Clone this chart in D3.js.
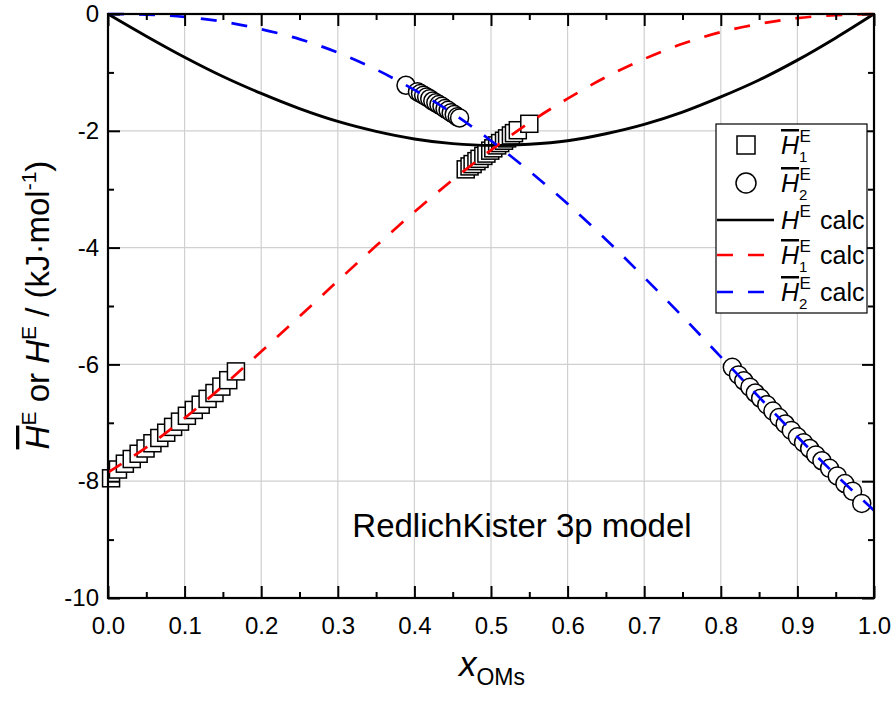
<!DOCTYPE html>
<html>
<head>
<meta charset="utf-8">
<script src="https://cdn.jsdelivr.net/npm/d3@7"></script>
<style>
  body { margin: 0; background: #fff; }
  svg text { font-family: "Liberation Sans", Arial, Helvetica, sans-serif; fill: #000; }
</style>
</head>
<body>
<svg id="chart" width="896" height="705"></svg>
<script>
// model curves (x step 0.05)
const curveX = [0, 0.05, 0.1, 0.15, 0.2, 0.25, 0.3, 0.35, 0.4, 0.45, 0.5,
                0.55, 0.6, 0.65, 0.7, 0.75, 0.8, 0.85, 0.9, 0.95, 1.0];
const heCalc = [0, -0.38, -0.74, -1.07, -1.36, -1.62, -1.84, -2.01, -2.14, -2.22, -2.25,
                -2.23, -2.17, -2.05, -1.89, -1.68, -1.42, -1.13, -0.79, -0.41, 0];
const h1Calc = [-7.85, -7.42, -6.92, -6.37, -5.78, -5.18, -4.57, -3.97, -3.39, -2.84, -2.33,
                -1.86, -1.45, -1.08, -0.77, -0.51, -0.31, -0.17, -0.07, -0.02, 0];
const h2Calc = [0, -0.01, -0.05, -0.13, -0.26, -0.43, -0.66, -0.95, -1.30, -1.70, -2.17,
                -2.69, -3.25, -3.86, -4.51, -5.18, -5.87, -6.56, -7.24, -7.89, -8.50];

// experimental partial molar enthalpies
const h1X = [0.004, 0.013, 0.022, 0.031, 0.040, 0.049, 0.058, 0.067, 0.076, 0.085,
             0.094, 0.103, 0.112, 0.121, 0.130, 0.139, 0.148, 0.157, 0.167,
             0.467, 0.472, 0.476, 0.481, 0.485, 0.490, 0.494, 0.499, 0.503, 0.508,
             0.512, 0.517, 0.521, 0.526, 0.530, 0.535, 0.550];
const h1Y = [-7.95, -7.80, -7.70, -7.62, -7.53, -7.44, -7.35, -7.26, -7.17, -7.07,
             -6.98, -6.88, -6.78, -6.69, -6.59, -6.49, -6.38, -6.27, -6.12,
             -2.66, -2.61, -2.57, -2.52, -2.48, -2.43, -2.39, -2.34, -2.30, -2.25,
             -2.21, -2.17, -2.13, -2.08, -2.04, -1.99, -1.88];
const h2X = [0.389, 0.404, 0.408, 0.412, 0.416, 0.420, 0.424, 0.428, 0.432, 0.436,
             0.440, 0.444, 0.448, 0.452, 0.456, 0.459,
             0.815, 0.823, 0.830, 0.838, 0.845, 0.852, 0.860, 0.868, 0.876, 0.884,
             0.892, 0.900, 0.908, 0.916, 0.924, 0.932, 0.942, 0.952, 0.962, 0.972, 0.984];
const h2Y = [-1.22, -1.33, -1.36, -1.39, -1.42, -1.45, -1.49, -1.52, -1.55, -1.58,
             -1.62, -1.65, -1.69, -1.72, -1.76, -1.78,
             -6.05, -6.18, -6.28, -6.39, -6.49, -6.58, -6.69, -6.80, -6.91, -7.02,
             -7.13, -7.24, -7.34, -7.44, -7.55, -7.65, -7.78, -7.91, -8.04, -8.17, -8.38];

const xTicks = [0, 0.1, 0.2, 0.3, 0.4, 0.5, 0.6, 0.7, 0.8, 0.9, 1.0];
const xMinor = [0.05, 0.15, 0.25, 0.35, 0.45, 0.55, 0.65, 0.75, 0.85, 0.95];
const yTicks = [0, -2, -4, -6, -8, -10];
const yMinor = [-1, -3, -5, -7, -9];

const svg = d3.select("#chart");
const margin = { top: 14, right: 22, bottom: 107, left: 108 };
const W = 896 - margin.left - margin.right,
      H = 705 - margin.top - margin.bottom;

const x = d3.scaleLinear().domain([0, 1]).range([0, W]);
const y = d3.scaleLinear().domain([-10, 0]).range([H, 0]);

const g = svg.append("g").attr("transform", `translate(${margin.left},${margin.top})`);

// grid
g.append("g").selectAll("line")
  .data(xTicks.slice(1, -1)).enter().append("line")
  .attr("x1", d => x(d)).attr("x2", d => x(d))
  .attr("y1", 0).attr("y2", H)
  .attr("stroke", "#d0d0d0").attr("stroke-width", 1.2);
g.append("g").selectAll("line")
  .data(yTicks.slice(1, -1)).enter().append("line")
  .attr("y1", d => y(d)).attr("y2", d => y(d))
  .attr("x1", 0).attr("x2", W)
  .attr("stroke", "#d0d0d0").attr("stroke-width", 1.2);

// markers
g.append("g").selectAll("rect")
  .data(h1X).enter().append("rect")
  .attr("x", d => x(d) - 8.5)
  .attr("y", (d, i) => y(h1Y[i]) - 8.5)
  .attr("width", 17).attr("height", 17)
  .attr("fill", "#fff").attr("stroke", "#000").attr("stroke-width", 1.5);

g.append("g").selectAll("circle")
  .data(h2X).enter().append("circle")
  .attr("cx", d => x(d))
  .attr("cy", (d, i) => y(h2Y[i]))
  .attr("r", 9)
  .attr("fill", "#fff").attr("stroke", "#000").attr("stroke-width", 1.5);

// calc curves
const line = d3.line()
  .x(d => x(d[0])).y(d => y(d[1]))
  .curve(d3.curveMonotoneX);

const curves = [
  { vals: heCalc, color: "#000", dash: null, w: 2.9 },
  { vals: h1Calc, color: "#ff0000", dash: "16,15", w: 2.7 },
  { vals: h2Calc, color: "#0000ff", dash: "16,15", w: 2.7 }
];
curves.forEach(c => {
  g.append("path")
    .datum(curveX.map((v, i) => [v, c.vals[i]]))
    .attr("d", line)
    .attr("fill", "none")
    .attr("stroke", c.color)
    .attr("stroke-width", c.w)
    .attr("stroke-dasharray", c.dash);
});

// axes: ticks inward on all four sides
function styleAxis(sel) {
  sel.select(".domain").remove();
  sel.selectAll(".tick line").attr("stroke", "#000").attr("stroke-width", 2);
}
g.append("g").attr("transform", `translate(0,${H})`)
  .call(d3.axisBottom(x).tickValues(xTicks).tickSizeInner(-12).tickSizeOuter(0)
    .tickPadding(19).tickFormat(d3.format(".1f")))
  .call(styleAxis)
  .selectAll("text").attr("font-size", 24);
g.append("g").attr("transform", `translate(0,${H})`)
  .call(d3.axisBottom(x).tickValues(xMinor).tickSizeInner(-6).tickFormat(""))
  .call(styleAxis);
g.append("g")
  .call(d3.axisTop(x).tickValues(xTicks).tickSizeInner(-12).tickFormat(""))
  .call(styleAxis);
g.append("g")
  .call(d3.axisTop(x).tickValues(xMinor).tickSizeInner(-6).tickFormat(""))
  .call(styleAxis);

g.append("g")
  .call(d3.axisLeft(y).tickValues(yTicks).tickSizeInner(-12).tickSizeOuter(0)
    .tickPadding(9).tickFormat(d => String(d)))
  .call(styleAxis)
  .selectAll("text").attr("font-size", 24);
g.append("g")
  .call(d3.axisLeft(y).tickValues(yMinor).tickSizeInner(-6).tickFormat(""))
  .call(styleAxis);
g.append("g").attr("transform", `translate(${W},0)`)
  .call(d3.axisRight(y).tickValues(yTicks).tickSizeInner(-12).tickFormat(""))
  .call(styleAxis);
g.append("g").attr("transform", `translate(${W},0)`)
  .call(d3.axisRight(y).tickValues(yMinor).tickSizeInner(-6).tickFormat(""))
  .call(styleAxis);

// frame
g.append("rect")
  .attr("width", W).attr("height", H)
  .attr("fill", "none").attr("stroke", "#000").attr("stroke-width", 2.2);

// axis titles
svg.append("text")
  .attr("x", 492).attr("y", 676)
  .attr("text-anchor", "middle")
  .call(t => {
    t.append("tspan").attr("font-size", 35).attr("font-style", "italic").text("x");
    t.append("tspan").attr("font-size", 23).attr("dy", 9).text("OMs");
  });

svg.append("text")
  .attr("transform", "translate(49,305) rotate(-90)")
  .attr("text-anchor", "middle")
  .attr("font-size", 33)
  .call(t => {
    t.append("tspan").attr("font-style", "italic")
      .style("text-decoration", "overline").text("H");
    t.append("tspan").attr("font-size", 21).attr("dy", -13).text("E");
    t.append("tspan").attr("dy", 13).text(" or ");
    t.append("tspan").attr("font-style", "italic").text("H");
    t.append("tspan").attr("font-size", 21).attr("dy", -13).text("E");
    t.append("tspan").attr("dy", 13).text(" / (kJ·mol");
    t.append("tspan").attr("font-size", 21).attr("dy", -13).text("-1");
    t.append("tspan").attr("dy", 13).text(")");
  });

// annotation
svg.append("text")
  .attr("x", 522).attr("y", 537)
  .attr("text-anchor", "middle")
  .attr("font-size", 33)
  .text("RedlichKister 3p model");

// legend
const lg = svg.append("g");
lg.append("rect")
  .attr("x", 716).attr("y", 124).attr("width", 151).attr("height", 189)
  .attr("fill", "#fff").attr("stroke", "#000").attr("stroke-width", 1.2);

const legendRows = [
  { kind: "square", bar: true, sub: "1", calc: false },
  { kind: "circle", bar: true, sub: "2", calc: false },
  { kind: "line", color: "#000", bar: false, sub: null, calc: true },
  { kind: "line", color: "#ff0000", dash: "16,15", bar: true, sub: "1", calc: true },
  { kind: "line", color: "#0000ff", dash: "16,15", bar: true, sub: "2", calc: true }
];
const rowY = [145, 183, 220, 255, 292];

legendRows.forEach((r, i) => {
  const cy = rowY[i];
  if (r.kind === "square") {
    lg.append("rect").attr("x", 737).attr("y", cy - 9).attr("width", 18).attr("height", 18)
      .attr("fill", "#fff").attr("stroke", "#000").attr("stroke-width", 1.5);
  } else if (r.kind === "circle") {
    lg.append("circle").attr("cx", 746).attr("cy", cy).attr("r", 10)
      .attr("fill", "#fff").attr("stroke", "#000").attr("stroke-width", 1.5);
  } else {
    lg.append("line").attr("x1", 717).attr("x2", 774).attr("y1", cy).attr("y2", cy)
      .attr("stroke", r.color).attr("stroke-width", 2.7)
      .attr("stroke-dasharray", r.dash || null);
  }
  const tx = 781, base = cy + 9;
  const t = lg.append("text").attr("x", tx).attr("y", base).attr("font-size", 25);
  const hs = t.append("tspan").attr("font-style", "italic").text("H");
  if (r.bar) hs.style("text-decoration", "overline");
  t.append("tspan").attr("x", tx + 18.5).attr("dy", -12)
    .attr("font-size", 17).text("E");
  if (r.sub) {
    t.append("tspan").attr("x", tx + 18).attr("dy", 20).attr("font-size", 15).text(r.sub);
    if (r.calc) t.append("tspan").attr("x", tx + 39).attr("dy", -8).text("calc");
  } else if (r.calc) {
    t.append("tspan").attr("x", tx + 39).attr("dy", 12).text("calc");
  }
});
</script>
</body>
</html>
